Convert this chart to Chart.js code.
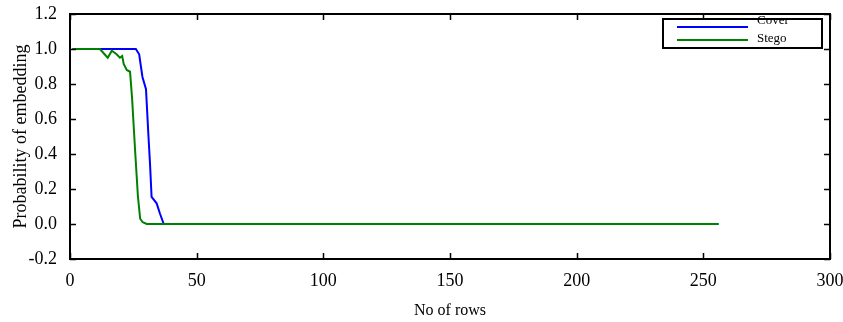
<!DOCTYPE html>
<html>
<head>
<meta charset="utf-8">
<script src="https://cdn.jsdelivr.net/npm/chart.js@4.4.1/dist/chart.umd.min.js"></script>
<style>
  html, body { margin: 0; padding: 0; background: #ffffff; }
  #wrap { width: 843px; height: 322px; }
</style>
</head>
<body>
<div id="wrap"><canvas id="chart" width="843" height="322"></canvas></div>
<script>
// Probability of embedding versus number of rows
const coverRows  = [1, 26, 27.3, 28.6, 30, 30.9, 31.6, 32.2, 34.2, 35.5, 37, 256];
const coverProb  = [1.0, 1.0, 0.97, 0.84, 0.77, 0.52, 0.34, 0.155, 0.118, 0.06, 0.0, 0.0];

const stegoRows  = [1, 11.8, 14.9, 16.5, 18.4, 19.7, 20.6, 21.2, 22.4, 23.7, 24.5, 25.7, 26.8, 27.7, 28.7, 30.3, 256];
const stegoProb  = [1.0, 1.0, 0.95, 0.99, 0.97, 0.95, 0.96, 0.915, 0.88, 0.87, 0.72, 0.42, 0.16, 0.03, 0.01, 0.0, 0.0];

const seriesNames = ['Cover', 'Stego'];
const xTickValues = [0, 50, 100, 150, 200, 250, 300];
const yTickValues = [-0.2, 0.0, 0.2, 0.4, 0.6, 0.8, 1.0, 1.2];

const SERIF = '"Liberation Serif", "Times New Roman", serif';

function toPoints(xs, ys) {
  return xs.map((x, i) => ({ x: x, y: ys[i] }));
}

// Frame around the plot area with inward ticks on all four sides, plus the boxed legend
const framePlugin = {
  id: 'frameAndLegend',
  afterDatasetsDraw(chart) {
    const { ctx, chartArea: a, scales } = chart;
    const xs = scales.x, ys = scales.y;
    const tick = 6;
    ctx.save();
    ctx.strokeStyle = '#000000';
    ctx.lineWidth = 2;
    ctx.strokeRect(a.left, a.top, a.right - a.left, a.bottom - a.top);

    ctx.lineWidth = 1.5;
    ctx.beginPath();
    xTickValues.forEach(v => {
      const px = Math.round(xs.getPixelForValue(v)) + 0.5;
      ctx.moveTo(px, a.bottom); ctx.lineTo(px, a.bottom - tick);
      ctx.moveTo(px, a.top);    ctx.lineTo(px, a.top + tick);
    });
    yTickValues.forEach(v => {
      const py = Math.round(ys.getPixelForValue(v)) + 0.5;
      ctx.moveTo(a.left, py);  ctx.lineTo(a.left + tick, py);
      ctx.moveTo(a.right, py); ctx.lineTo(a.right - tick, py);
    });
    ctx.stroke();

    // legend box
    const bx = a.right - 167, by = a.top + 5, bw = 159, bh = 29;
    ctx.fillStyle = '#ffffff';
    ctx.fillRect(bx, by, bw, bh);
    ctx.lineWidth = 2;
    ctx.strokeStyle = '#000000';
    ctx.strokeRect(bx, by, bw, bh);

    const lineY = [by + 8, by + 21];
    const textY = [by + 4.5, by + 23];
    chart.data.datasets.forEach((ds, i) => {
      ctx.strokeStyle = ds.borderColor;
      ctx.lineWidth = 2;
      ctx.beginPath();
      ctx.moveTo(bx + 14, lineY[i]);
      ctx.lineTo(bx + 85, lineY[i]);
      ctx.stroke();
    });
    ctx.save();
    ctx.beginPath();
    ctx.rect(bx - 2, a.top + 1, bw + 4, bh + 10);
    ctx.clip();
    ctx.fillStyle = '#000000';
    ctx.font = '13px ' + SERIF;
    ctx.textAlign = 'left';
    ctx.textBaseline = 'alphabetic';
    chart.data.datasets.forEach((ds, i) => {
      ctx.fillText(ds.label, bx + 94, textY[i]);
    });
    ctx.restore();
    ctx.restore();
  }
};

new Chart(document.getElementById('chart'), {
  type: 'line',
  data: {
    datasets: [
      {
        label: seriesNames[0],
        data: toPoints(coverRows, coverProb),
        borderColor: '#0000ff',
        borderWidth: 2,
        pointRadius: 0,
        tension: 0,
        fill: false,
        order: 1
      },
      {
        label: seriesNames[1],
        data: toPoints(stegoRows, stegoProb),
        borderColor: '#008000',
        borderWidth: 2,
        pointRadius: 0,
        tension: 0,
        fill: false,
        order: 0
      }
    ]
  },
  options: {
    responsive: false,
    animation: false,
    devicePixelRatio: 1,
    layout: { padding: { top: 14, right: 13, left: 0, bottom: 0 } },
    plugins: {
      legend: { display: false },
      tooltip: { enabled: false }
    },
    scales: {
      x: {
        type: 'linear',
        min: 0,
        max: 300,
        afterBuildTicks(scale) { scale.ticks = xTickValues.map(v => ({ value: v })); },
        afterFit(scale) {
          scale.height = 63;
          scale.paddingLeft = 0;
          scale.paddingRight = 0;
        },
        grid: { display: false, drawTicks: false },
        border: { display: false },
        ticks: {
          color: '#000000',
          font: { family: SERIF, size: 18 },
          padding: 11,
          maxRotation: 0,
          callback: v => String(v)
        },
        title: {
          display: true,
          text: 'No of rows',
          color: '#000000',
          font: { family: SERIF, size: 16, lineHeight: 1.2 },
          padding: { top: 0, bottom: 2 }
        }
      },
      y: {
        type: 'linear',
        min: -0.2,
        max: 1.2,
        afterBuildTicks(scale) { scale.ticks = yTickValues.map(v => ({ value: v })); },
        afterFit(scale) {
          scale.width = 70;
          scale.paddingTop = 0;
          scale.paddingBottom = 0;
        },
        grid: { display: false, drawTicks: false },
        border: { display: false },
        ticks: {
          color: '#000000',
          font: { family: SERIF, size: 18 },
          padding: 13,
          callback: v => Number(v).toFixed(1)
        },
        title: {
          display: true,
          text: 'Probability of embedding',
          color: '#000000',
          font: { family: SERIF, size: 18, lineHeight: 1.2 },
          padding: { top: 10, bottom: 0 }
        }
      }
    }
  },
  plugins: [framePlugin]
});
</script>
</body>
</html>
